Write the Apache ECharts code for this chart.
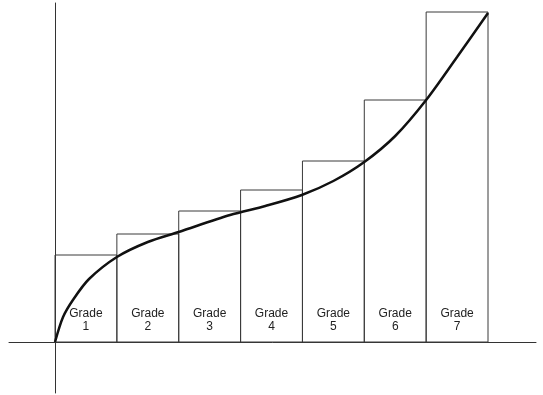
<!DOCTYPE html>
<html>
<head>
<meta charset="utf-8">
<script src="https://cdn.jsdelivr.net/npm/echarts@6/dist/echarts.min.js"></script>
<style>html,body{margin:0;padding:0;background:#fff}#c{width:543px;height:395px}</style>
</head>
<body>
<div id="c"></div>
<script>
var grades = [1, 2, 3, 4, 5, 6, 7];
var gradeLabels = ['Grade\n1', 'Grade\n2', 'Grade\n3', 'Grade\n4', 'Grade\n5', 'Grade\n6', 'Grade\n7'];
var barHeights = [8.7, 10.8, 13.1, 15.2, 18.1, 24.2, 33.0];
var curveX = [0, 0.13, 0.3, 0.55, 1.0, 1.5, 2.0, 2.83, 3.4, 3.99, 4.5, 5.0, 5.5, 6.0, 6.5, 7.0];
var curveY = [0, 2.5, 4.3, 6.3, 8.5, 10.0, 11.0, 12.7, 13.6, 14.7, 16.1, 18.0, 20.6, 24.2, 28.5, 32.9];

var barData = grades.map(function (g, i) { return [g, barHeights[i], gradeLabels[i]]; });
var curveData = curveX.map(function (x, i) { return [x, curveY[i]]; });

var chart = echarts.init(document.getElementById('c'));
chart.setOption({
  animation: false,
  backgroundColor: '#fff',
  grid: { left: 9, right: 7, top: 3, bottom: 2 },
  xAxis: {
    type: 'value', min: -0.744, max: 7.776,
    axisLine: { onZero: true, lineStyle: { color: '#333', width: 1 } },
    axisTick: { show: false }, axisLabel: { show: false }, splitLine: { show: false }
  },
  yAxis: {
    type: 'value', min: -5.1, max: 33.9,
    axisLine: { show: true, onZero: true, lineStyle: { color: '#333', width: 1 } },
    axisTick: { show: false }, axisLabel: { show: false }, splitLine: { show: false }
  },
  series: [
    {
      type: 'custom',
      data: barData,
      renderItem: function (params, api) {
        var g = api.value(0), h = api.value(1);
        var tl = api.coord([g - 1, h]);
        var br = api.coord([g, 0]);
        var cx = (tl[0] + br[0]) / 2;
        return {
          type: 'group',
          children: [
            {
              type: 'rect',
              shape: { x: tl[0], y: tl[1], width: br[0] - tl[0], height: br[1] - tl[1] },
              style: { fill: 'none', stroke: '#3a3a3a', lineWidth: 1 }
            },
            {
              type: 'text',
              style: {
                text: gradeLabels[params.dataIndex],
                x: cx, y: br[1] - 22,
                align: 'center', verticalAlign: 'middle',
                font: '12px "Liberation Sans", Arial, sans-serif',
                lineHeight: 13, fill: '#222'
              }
            }
          ]
        };
      },
      z: 2
    },
    {
      type: 'line',
      data: curveData,
      smooth: 0.3,
      symbol: 'none',
      lineStyle: { color: '#111', width: 2.5 },
      z: 3
    }
  ]
});
</script>
</body>
</html>
